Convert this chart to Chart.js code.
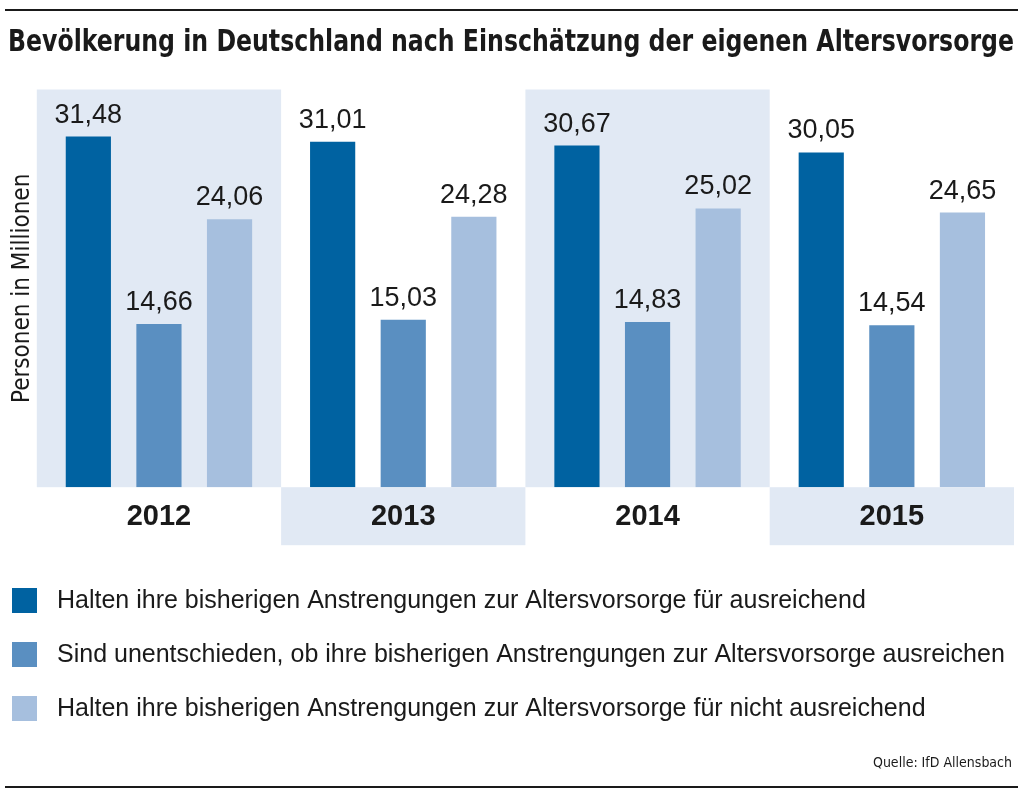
<!DOCTYPE html>
<html>
<head>
<meta charset="utf-8">
<script src="https://cdn.jsdelivr.net/npm/chart.js@4.4.1/dist/chart.umd.min.js"></script>
<style>
  html, body { margin: 0; padding: 0; background: #fff; }
  #wrap { width: 1024px; height: 797px; }
</style>
</head>
<body>
<div id="wrap"><canvas id="myChart" width="1024" height="797"></canvas></div>
<script>
// daten
const jahre = ['2012', '2013', '2014', '2015'];
const ausreichend = [31.48, 31.01, 30.67, 30.05];
const unentschieden = [14.66, 15.03, 14.83, 14.54];
const nichtAusreichend = [24.06, 24.28, 25.02, 24.65];
const serienNamen = [
  'Halten ihre bisherigen Anstrengungen zur Altersvorsorge für ausreichend',
  'Sind unentschieden, ob ihre bisherigen Anstrengungen zur Altersvorsorge ausreichen',
  'Halten ihre bisherigen Anstrengungen zur Altersvorsorge für nicht ausreichend'
];
const farben = ['#0062a1', '#5a8fc1', '#a6bfde'];
const panelFarbe = '#e1e9f4';

const narrow = "'Liberation Sans Narrow', 'DejaVu Sans Condensed', sans-serif";
const normal = "'Liberation Sans', Arial, sans-serif";

// hintergrund: linien + abwechselnde flaechen
const hintergrund = {
  id: 'hintergrund',
  beforeDraw(chart) {
    const { ctx, chartArea, scales } = chart;
    const x = scales.x;
    const w = chartArea.width / jahre.length;
    ctx.save();
    ctx.fillStyle = '#fff';
    ctx.fillRect(0, 0, chart.width, chart.height);
    ctx.fillStyle = panelFarbe;
    jahre.forEach((j, i) => {
      const left = x.getPixelForValue(i) - w / 2;
      if (i % 2 === 0) {
        ctx.fillRect(left, chartArea.top, w, chartArea.bottom - chartArea.top);
      } else {
        ctx.fillRect(left, chartArea.bottom, w, 58);
      }
    });
    // linien oben und unten
    ctx.fillStyle = '#1a1a1a';
    ctx.fillRect(5, 9, 1013, 2);
    ctx.fillRect(5, 786, 1013, 2);
    ctx.restore();
  }
};

// werte ueber den balken (mit komma)
const werte = {
  id: 'werte',
  afterDatasetsDraw(chart) {
    const { ctx } = chart;
    ctx.save();
    ctx.font = '27px ' + normal;
    ctx.fillStyle = '#1a1a1a';
    ctx.textAlign = 'center';
    ctx.textBaseline = 'alphabetic';
    chart.data.datasets.forEach((ds, di) => {
      chart.getDatasetMeta(di).data.forEach((bar, i) => {
        const txt = ds.data[i].toFixed(2).replace('.', ',');
        ctx.fillText(txt, bar.x, bar.y - 14);
      });
    });
    ctx.restore();
  }
};

// legende + quelle
const legende = {
  id: 'legende',
  afterDraw(chart) {
    const { ctx } = chart;
    ctx.save();
    chart.data.datasets.forEach((ds, i) => {
      const y = 588 + i * 54;
      ctx.fillStyle = ds.backgroundColor;
      ctx.fillRect(12, y, 25, 25);
      ctx.fillStyle = '#1a1a1a';
      ctx.font = '25px ' + normal;
      ctx.textAlign = 'left';
      ctx.textBaseline = 'middle';
      ctx.fillText(ds.label, 57, y + 13);
    });
    ctx.font = '14px ' + narrow;
    ctx.textAlign = 'right';
    ctx.textBaseline = 'middle';
    ctx.fillText('Quelle: IfD Allensbach', 1012, 763);
    ctx.restore();
  }
};

const data = {
  labels: jahre,
  datasets: [ausreichend, unentschieden, nichtAusreichend].map((werte, i) => ({
    label: serienNamen[i],
    data: werte,
    backgroundColor: farben[i],
    borderWidth: 0,
    categoryPercentage: 0.867,
    barPercentage: 0.64
  }))
};

const config = {
  type: 'bar',
  data,
  options: {
    responsive: false,
    animation: false,
    layout: { padding: { left: 8, right: 10, top: 0, bottom: 251 } },
    scales: {
      x: {
        grid: { display: false, drawTicks: false },
        border: { display: false },
        ticks: {
          color: '#1a1a1a',
          font: { family: normal, size: 29, weight: 'bold' },
          padding: 12
        }
      },
      y: {
        min: 0,
        max: 35.7,
        grid: { display: false, drawTicks: false },
        border: { display: false },
        ticks: { display: false },
        title: {
          display: true,
          text: 'Personen in Millionen',
          color: '#1a1a1a',
          font: { family: narrow, size: 24 },
          padding: { top: 0, bottom: 0 }
        }
      }
    },
    plugins: {
      legend: { display: false },
      tooltip: { enabled: false },
      title: {
        display: true,
        align: 'start',
        text: 'Bevölkerung in Deutschland nach Einschätzung der eigenen Altersvorsorge',
        color: '#1a1a1a',
        font: { family: narrow, size: 29.6, weight: 'bold' },
        padding: { top: 26, bottom: 28 }
      }
    }
  },
  plugins: [hintergrund, werte, legende]
};

const myChart = new Chart(document.getElementById('myChart'), config);
</script>
</body>
</html>
